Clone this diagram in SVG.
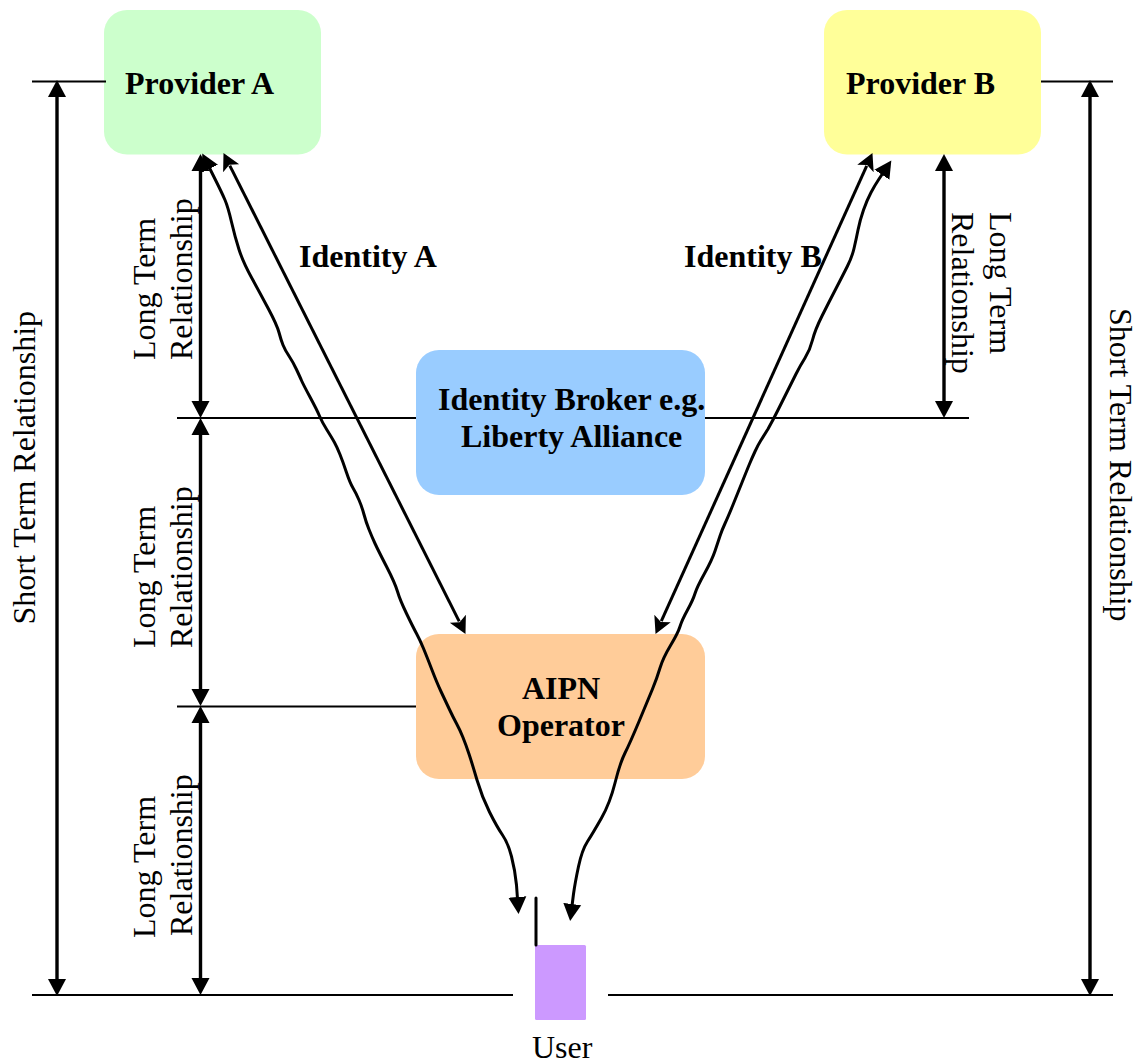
<svg xmlns="http://www.w3.org/2000/svg" width="1138" height="1061" viewBox="0 0 1138 1061">
<style>
text{font-family:"Liberation Serif","Times New Roman",serif;fill:#000}
.b{font-weight:bold;font-size:32px}
.r{font-size:32px}
.h{stroke:#000;stroke-width:2;fill:none}
.v{stroke:#000;stroke-width:3.4;fill:none;marker-start:url(#tri);marker-end:url(#tri)}
.s{stroke:#000;stroke-width:3;fill:none;stroke-linejoin:round;stroke-linecap:round;marker-start:url(#tri);marker-end:url(#tri)}
.a{stroke:#000;stroke-width:3;fill:none;marker-start:url(#ste);marker-end:url(#ste)}
</style>
<defs>
<marker id="tri" markerUnits="userSpaceOnUse" markerWidth="18" markerHeight="19" viewBox="0 -9.5 18 19" refX="2" refY="0" orient="auto-start-reverse"><path d="M0 -9L17 0L0 9z" fill="#000"/></marker>
<marker id="ste" markerUnits="userSpaceOnUse" markerWidth="18" markerHeight="20" viewBox="0 -10 18 20" refX="3" refY="0" orient="auto-start-reverse"><path d="M0 -9L17 0L0 9L4 0z" fill="#000"/></marker>
</defs>
<g id="node-provider-a"><rect x="104" y="10" width="217" height="144.500" rx="23" fill="#CCFFCC"/><text class="b" x="125" y="94">Provider A</text></g>
<g id="node-provider-b"><rect x="824" y="10" width="217" height="144.500" rx="23" fill="#FFFF99"/><text class="b" x="846" y="94">Provider B</text></g>
<g id="node-broker"><rect x="416" y="350" width="289" height="145" rx="23" fill="#99CCFF"/><text class="b" x="438" y="410">Identity Broker e.g.</text><text class="b" x="461" y="447">Liberty Alliance</text></g>
<g id="node-operator"><rect x="416" y="634" width="289" height="145" rx="23" fill="#FFCC99"/><text class="b" x="522" y="699">AIPN</text><text class="b" x="497" y="736">Operator</text></g>
<g id="node-user"><rect x="535" y="945" width="51" height="75" rx="1.5" fill="#CC99FF"/><path d="M536 898V945" stroke="#000" stroke-width="3" stroke-linecap="round"/><text class="r" x="532" y="1058">User</text></g>
<g id="connectors">
<path class="h" d="M32 81.500H106M1041 81.500H1113M177 418H416M705 418H969M177 706.500H416M32 995H513M608 995H1113"/>
<path class="v" d="M57 95V981"/>
<path class="v" d="M1090 95V981"/>
<path class="v" d="M200.500 169V403"/>
<path class="v" d="M200.500 433V691"/>
<path class="v" d="M200.500 721V980"/>
<path class="v" d="M944 169V403"/>
<path class="a" d="M229.800 165.600L459.200 621.400"/>
<path class="a" d="M866.700 165.800L661.300 621.200"/>
<path class="s" d="M209 167L215.500 180Q222 193 225 200Q228 207 231.500 222Q235 237 239 249.500Q243 262 251.500 277.500Q260 293 268.500 309Q277 325 279 332.500Q281 340 283 345Q285 350 289 356Q293 362 296.500 369.500Q300 377 301.500 380.500Q303 384 310 397Q317 410 319.500 416Q322 422 327 430Q332 438 334.500 442.500Q337 447 340 454.500Q343 462 346.500 472.500Q350 483 353 488Q356 493 359 500Q362 507 364 514.500Q366 522 369 529.500Q372 537 375 543.500Q378 550 386.500 566.500Q395 583 397.500 591.500Q400 600 406.500 613.500Q413 627 416.500 633.500Q420 640 423.500 648.500Q427 657 432 670Q437 683 441 691.500Q445 700 449 708.500Q453 717 456.500 723.500Q460 730 463 737.500Q466 745 469 754Q472 763 477 780Q482 797 489.500 812Q497 827 502.500 835Q508 843 511.500 856.500Q515 870 516.500 885L517.500 899"/>
<path class="s" d="M883 173L879 179Q875 185 871 192.500Q867 200 863.500 210Q860 220 858 230Q856 240 854 248.500Q852 257 847.500 266Q843 275 836 288.500Q829 302 822 316Q815 330 812.500 340Q810 350 805 358Q800 366 796 374Q792 382 787.500 391Q783 400 778 410Q773 420 768 429Q763 437 760.500 441Q758 445 755 451.500Q752 458 749.500 464Q747 470 742 482.500Q737 495 732.500 506Q728 517 725 523.500Q722 530 720 536Q718 542 715 551Q712 560 704.500 573.500Q697 587 695 593.500Q693 600 687.500 610Q682 620 680 626.500Q678 633 670.500 645.500Q663 658 660 668Q657 678 652.500 689Q648 700 639 721.500Q630 743 625 753Q620 763 615 783Q610 803 601.500 818Q593 833 587.500 841.500Q582 850 578.500 866.500Q575 883 573.500 894L572 906"/>
</g>
<g id="labels">
<text class="b" x="299" y="267">Identity A</text>
<text class="b" x="684" y="267">Identity B</text>
<text class="r" transform="translate(35 624.500) rotate(-90)">Short Term Relationship</text>
<text class="r" transform="translate(1109.500 308) rotate(90)">Short Term Relationship</text>
<text class="r" transform="translate(155 360) rotate(-90)">Long Term</text>
<text class="r" transform="translate(192 360) rotate(-90)">Relationship</text>
<text class="r" transform="translate(155 648) rotate(-90)">Long Term</text>
<text class="r" transform="translate(192 648) rotate(-90)">Relationship</text>
<text class="r" transform="translate(155 938) rotate(-90)">Long Term</text>
<text class="r" transform="translate(192 936) rotate(-90)">Relationship</text>
<text class="r" transform="translate(990 212) rotate(90)">Long Term</text>
<text class="r" transform="translate(952 212) rotate(90)">Relationship</text>
</g>
</svg>
